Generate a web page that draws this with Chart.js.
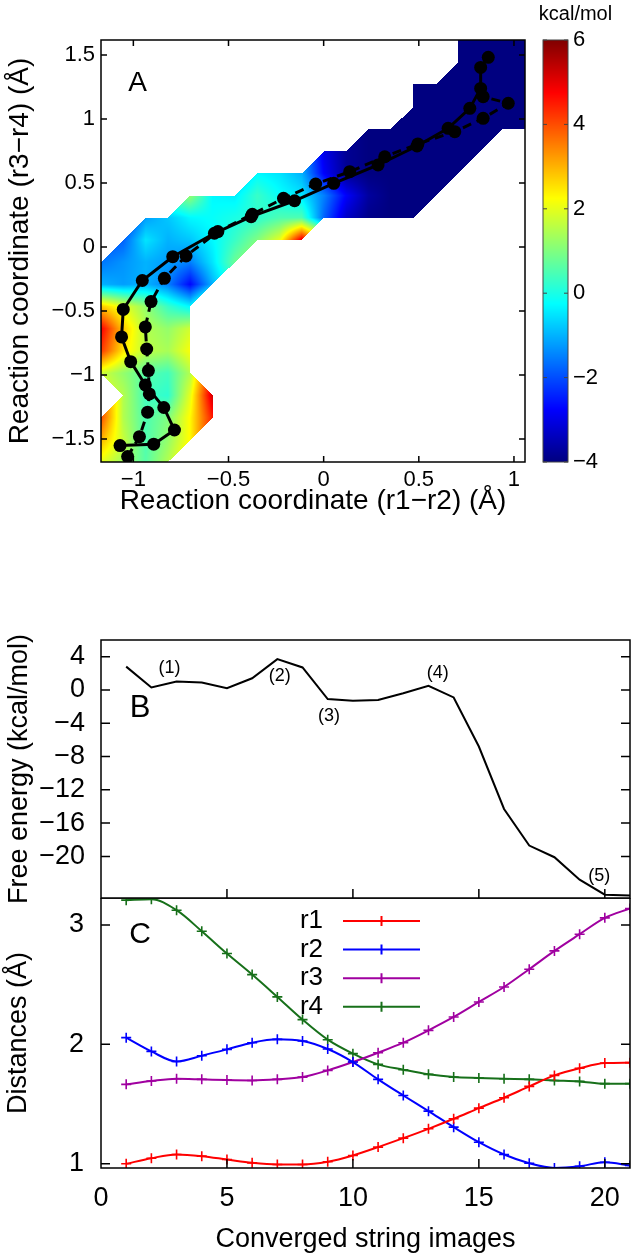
<!DOCTYPE html>
<html>
<head>
<meta charset="utf-8">
<title>String method free energy</title>
<script src="https://cdn.jsdelivr.net/npm/chart.js@4.4.1/dist/chart.umd.min.js"></script>
<style>
  html, body { margin: 0; padding: 0; background: #fff; }
  body { position: relative; width: 633px; height: 1254px; overflow: hidden; }
  canvas { position: absolute; left: 0; }
  #chart-a { top: 0; }
  #chart-b { top: 600px; }
  #chart-c { top: 898px; }
</style>
</head>
<body>
<canvas id="chart-a" width="633" height="560"></canvas>
<canvas id="chart-b" width="633" height="330"></canvas>
<canvas id="chart-c" width="633" height="360"></canvas>
<script>
const _ = null;

// --- panel A: free energy surface (kcal/mol) on the (r1-r2, r3-r4) grid ---
const gridX = [-1.170, -1.053, -0.935, -0.818, -0.701, -0.584, -0.466, -0.349, -0.232, -0.115,
               0.003, 0.120, 0.237, 0.354, 0.472, 0.589, 0.706, 0.823, 0.941, 1.058];
const gridY = [1.617, 1.443, 1.270, 1.096, 0.923, 0.749, 0.576, 0.402, 0.229, 0.055,
               -0.118, -0.292, -0.465, -0.639, -0.812, -0.986, -1.160, -1.333, -1.507, -1.680];
const energy = [
  [_, _, _, _, _, _, _, _, _, _, _, _, _, _, _, _, -4, -4, -4, -4],
  [_, _, _, _, _, _, _, _, _, _, _, _, _, _, _, _, -4, -4, -4, -4],
  [_, _, _, _, _, _, _, _, _, _, _, _, _, _, -4, -4, -4, -4, -4, -4],
  [_, _, _, _, _, _, _, _, _, _, _, _, _, _, -4, -4, -4, -4, -4, -4],
  [_, _, _, _, _, _, _, _, _, _, _, _, -4, -4, -4, -4, -4, -4, -4, -4],
  [_, _, _, _, _, _, _, _, _, _, -3.0, -3.8, -4, -4, -4, -4, -4, -4, _, _],
  [_, _, _, _, _, _, _, -0.3, -0.5, -1.0, -2.8, -3.8, -4, -4, -4, -4, -4, _, _, _],
  [_, _, _, _, 1.2, -0.3, -0.4, 0.3, -0.2, -0.5, -1.5, -2.8, -3.7, -4, -4, -4, _, _, _, _],
  [_, _, -1.2, -0.8, -0.3, -0.2, 0.0, 0.2, 0.5, 0.5, -1.8, -3.3, -3.9, -4, -4, _, _, _, _, _],
  [_, -1.8, -0.5, -1.0, -0.8, -0.3, 0.3, 1.0, 2.0, 5.0, _, _, _, _, _, _, _, _, _, _],
  [-1.6, -1.3, -1.0, -1.2, -1.5, -0.5, 0.8, _, _, _, _, _, _, _, _, _, _, _, _, _],
  [-1.0, -1.2, -1.0, -1.5, -2.7, -1.0, _, _, _, _, _, _, _, _, _, _, _, _, _, _],
  [2.8, 2.0, 1.2, 0.3, -0.3, _, _, _, _, _, _, _, _, _, _, _, _, _, _, _],
  [4.8, 2.8, 1.5, 1.2, 1.8, _, _, _, _, _, _, _, _, _, _, _, _, _, _, _],
  [4.2, 2.5, 1.6, 1.4, 2.2, _, _, _, _, _, _, _, _, _, _, _, _, _, _, _],
  [1.8, 1.2, 0.6, 0.4, 1.5, _, _, _, _, _, _, _, _, _, _, _, _, _, _, _],
  [_, 1.5, 0.4, 0.2, 2.0, 5.2, _, _, _, _, _, _, _, _, _, _, _, _, _, _],
  [4.0, 1.5, 0.5, 1.0, 2.3, 4.5, _, _, _, _, _, _, _, _, _, _, _, _, _, _],
  [3.0, 1.7, 0.5, 1.2, 2.3, _, _, _, _, _, _, _, _, _, _, _, _, _, _, _],
  [2.0, 1.3, 0.6, 1.5, _, _, _, _, _, _, _, _, _, _, _, _, _, _, _, _]
];
const colorRange = [-4, 6];

// converged strings, [r1-r2, r3-r4]
const stringSolid = [
  [-1.070, -1.552], [-0.893, -1.541], [-0.784, -1.430], [-0.840, -1.254], [-0.937, -1.078],
  [-1.014, -0.896], [-1.062, -0.703], [-1.053, -0.488], [-0.953, -0.262], [-0.793, -0.076],
  [-0.574, 0.107], [-0.381, 0.237], [-0.153, 0.361], [0.053, 0.497], [0.286, 0.641],
  [0.491, 0.789], [0.654, 0.927], [0.768, 1.083], [0.825, 1.239], [0.825, 1.403], [0.865, 1.482]
];
const stringDashed = [
  [-1.030, -1.638], [-0.968, -1.482], [-0.925, -1.291], [-0.916, -1.148], [-0.921, -0.966],
  [-0.930, -0.797], [-0.937, -0.625], [-0.907, -0.427], [-0.837, -0.245], [-0.723, -0.070],
  [-0.556, 0.120], [-0.375, 0.255], [-0.211, 0.380], [-0.042, 0.492], [0.137, 0.588],
  [0.321, 0.705], [0.495, 0.805], [0.689, 0.901], [0.838, 1.005], [0.970, 1.123], [0.838, 1.174]
];
const ticksAX = [-1, -0.5, 0, 0.5, 1];
const ticksAY = [-1.5, -1, -0.5, 0, 0.5, 1, 1.5];
const ticksCB = [-4, -2, 0, 2, 4, 6];

// --- panels B and C: along the converged string ---
const images = [1, 2, 3, 4, 5, 6, 7, 8, 9, 10, 11, 12, 13, 14, 15, 16, 17, 18, 19, 20, 21];
const freeEnergy = [2.8, 0.3, 1.0, 0.9, 0.2, 1.4, 3.7, 2.7, -1.1, -1.3, -1.2, -0.4, 0.5, -0.9,
                    -6.8, -14.3, -18.7, -20.1, -22.8, -24.6, -24.7];
const peakLabels = ['(1)', '(2)', '(3)', '(4)', '(5)'];
const peakX = [2.72, 7.1, 9.05, 13.37, 19.78];
const peakY = [2.6, 1.7, -3.1, 2.0, -22.4];

const r1 = [1.000, 1.047, 1.078, 1.064, 1.036, 1.008, 0.994, 0.994, 1.017, 1.070, 1.140,
            1.215, 1.293, 1.377, 1.466, 1.553, 1.648, 1.740, 1.800, 1.843, 1.847];
const r2 = [2.056, 1.941, 1.857, 1.905, 1.958, 2.014, 2.042, 2.028, 1.961, 1.852, 1.707,
            1.572, 1.441, 1.307, 1.181, 1.078, 1.005, 0.966, 0.980, 1.013, 0.986];
const r3 = [1.665, 1.693, 1.712, 1.707, 1.701, 1.698, 1.707, 1.726, 1.782, 1.852, 1.930,
            2.014, 2.117, 2.229, 2.355, 2.480, 2.629, 2.782, 2.922, 3.059, 3.137];
const r4 = [3.207, 3.215, 3.123, 2.947, 2.760, 2.584, 2.397, 2.207, 2.039, 1.922, 1.832,
            1.788, 1.749, 1.726, 1.718, 1.712, 1.707, 1.698, 1.690, 1.671, 1.671];
const distanceNames = ['r1', 'r2', 'r3', 'r4'];
const ticksX = [0, 5, 10, 15, 20];
const ticksBY = [-20, -16, -12, -8, -4, 0, 4];
const ticksCY = [1, 2, 3];

const FONT = "'Liberation Sans', Arial, Helvetica, sans-serif";
Chart.defaults.font.family = FONT;
Chart.defaults.color = '#000';
Chart.defaults.animation = false;
Chart.defaults.plugins.legend.display = false;
Chart.defaults.plugins.tooltip.enabled = false;

const minus = v => String(v).replace('-', '\u2212');
const setTicks = list => scale => { scale.ticks = list.map(v => ({ value: v })); };
// fixed axis box, no extra room for overhanging labels
const fixSize = (key, px) => s => { s[key] = px; s.paddingTop = s.paddingBottom = s.paddingLeft = s.paddingRight = 0; };

function jet(v) {
  const t = Math.min(1, Math.max(0, (v - colorRange[0]) / (colorRange[1] - colorRange[0])));
  const c = k => Math.round(255 * Math.min(1, Math.max(0, 1.5 - Math.abs(4 * t - k))));
  return [c(3), c(2), c(1)];
}

// value of the surface at (x, y): bilinear on full cells, linear on half cells
function energyAt(x, y) {
  let i = -1, j = -1;
  for (let k = 0; k < gridX.length - 1; k++) if (x >= gridX[k] && x <= gridX[k + 1]) { i = k; break; }
  for (let k = 0; k < gridY.length - 1; k++) if (y <= gridY[k] && y >= gridY[k + 1]) { j = k; break; }
  if (i < 0 || j < 0) return null;
  const u = (x - gridX[i]) / (gridX[i + 1] - gridX[i]);
  const v = (gridY[j] - y) / (gridY[j] - gridY[j + 1]);
  const c00 = energy[j][i], c10 = energy[j][i + 1], c01 = energy[j + 1][i], c11 = energy[j + 1][i + 1];
  const missing = [c00, c10, c01, c11].filter(c => c === null).length;
  if (missing === 0) return c00 * (1 - u) * (1 - v) + c10 * u * (1 - v) + c01 * (1 - u) * v + c11 * u * v;
  if (missing > 1) return null;
  if (c11 === null) return u + v <= 1 ? c00 + u * (c10 - c00) + v * (c01 - c00) : null;
  if (c00 === null) return u + v >= 1 ? c11 + (1 - u) * (c01 - c11) + (1 - v) * (c10 - c11) : null;
  if (c10 === null) return u <= v ? c01 + (1 - v) * (c00 - c01) + u * (c11 - c01) : null;
  return u >= v ? c10 + (1 - u) * (c00 - c10) + v * (c11 - c10) : null;
}

const surface = {
  id: 'surface',
  beforeDatasetsDraw(chart) {
    const { ctx, chartArea: a, scales: { x, y } } = chart;
    const w = Math.round(a.right - a.left), h = Math.round(a.bottom - a.top);
    const off = document.createElement('canvas');
    off.width = w; off.height = h;
    const octx = off.getContext('2d');
    const img = octx.createImageData(w, h);
    for (let py = 0; py < h; py++) {
      const yv = y.getValueForPixel(a.top + py + 0.5);
      for (let px = 0; px < w; px++) {
        const e = energyAt(x.getValueForPixel(a.left + px + 0.5), yv);
        if (e === null) continue;
        const [r, g, b] = jet(e);
        const k = (py * w + px) * 4;
        img.data[k] = r; img.data[k + 1] = g; img.data[k + 2] = b; img.data[k + 3] = 255;
      }
    }
    octx.putImageData(img, 0, 0);
    ctx.drawImage(off, a.left, a.top);
  }
};

const colorbar = {
  id: 'colorbar',
  afterDraw(chart, args, o) {
    const { ctx } = chart;
    const cb = chart.scales.cb;
    const left = cb.left + o.gap;
    ctx.save();
    for (let py = Math.floor(cb.top); py < cb.bottom; py++) {
      const [r, g, b] = jet(cb.getValueForPixel(py + 0.5));
      ctx.fillStyle = `rgb(${r},${g},${b})`;
      ctx.fillRect(left, py, o.width, 1);
    }
    ctx.strokeStyle = '#444';
    ctx.lineWidth = 1;
    ctx.strokeRect(left, cb.top, o.width, cb.bottom - cb.top);
    ctx.beginPath();
    ticksCB.forEach(v => {
      const py = cb.getPixelForValue(v);
      ctx.moveTo(left, py); ctx.lineTo(left + 4, py);
      ctx.moveTo(left + o.width, py); ctx.lineTo(left + o.width - 4, py);
    });
    ctx.stroke();
    ctx.fillStyle = '#000';
    ctx.font = `${o.titleSize}px ${FONT}`;
    ctx.textAlign = 'center';
    ctx.textBaseline = 'middle';
    ctx.fillText(o.title, left + o.width / 2 + o.titleShift, o.titleY);
    ctx.restore();
  }
};

const frameTicks = {
  id: 'frameTicks',
  afterDatasetsDraw(chart, args, o) {
    const { ctx, chartArea: a, scales } = chart;
    ctx.save();
    ctx.strokeStyle = '#000';
    ctx.lineWidth = o.lineWidth;
    ctx.beginPath();
    o.xTicks.forEach(v => {
      const px = scales.x.getPixelForValue(v);
      if (px < a.left + 1 || px > a.right - 1) return;
      ctx.moveTo(px, a.bottom); ctx.lineTo(px, a.bottom - o.len);
      if (o.top) { ctx.moveTo(px, a.top); ctx.lineTo(px, a.top + o.len); }
    });
    o.yTicks.forEach(v => {
      const py = scales.y.getPixelForValue(v);
      if (py < a.top + 1 || py > a.bottom - 1) return;
      ctx.moveTo(a.left, py); ctx.lineTo(a.left + o.len, py);
      ctx.moveTo(a.right, py); ctx.lineTo(a.right - o.len, py);
    });
    ctx.stroke();
    ctx.strokeRect(a.left, a.top, a.right - a.left, a.bottom - a.top);
    ctx.restore();
  }
};

const panelLetter = {
  id: 'panelLetter',
  afterDraw(chart, args, o) {
    const { ctx, chartArea: a } = chart;
    ctx.save();
    ctx.fillStyle = '#000';
    ctx.font = `${o.size}px ${FONT}`;
    ctx.textAlign = 'center';
    ctx.textBaseline = 'middle';
    ctx.fillText(o.text, a.left + o.dx, a.top + o.dy);
    ctx.restore();
  }
};

const peakNotes = {
  id: 'peakNotes',
  afterDatasetsDraw(chart, args, o) {
    const { ctx, scales: { x, y } } = chart;
    ctx.save();
    ctx.fillStyle = '#000';
    ctx.font = `${o.size}px ${FONT}`;
    ctx.textAlign = 'center';
    ctx.textBaseline = 'middle';
    peakLabels.forEach((t, i) => ctx.fillText(t, x.getPixelForValue(peakX[i]), y.getPixelForValue(peakY[i])));
    ctx.restore();
  }
};

const legendC = {
  id: 'legendC',
  afterDatasetsDraw(chart, args, o) {
    const { ctx, chartArea: a } = chart;
    ctx.save();
    ctx.font = `${o.size}px ${FONT}`;
    ctx.textAlign = 'right';
    ctx.textBaseline = 'middle';
    chart.data.datasets.forEach((ds, i) => {
      const y = a.top + o.top + i * o.gap;
      ctx.fillStyle = '#000';
      ctx.fillText(ds.label, a.left + o.textRight, y);
      const x0 = a.left + o.lineStart, x1 = a.left + o.lineEnd, xm = (x0 + x1) / 2;
      ctx.strokeStyle = ds.borderColor;
      ctx.lineWidth = 2;
      ctx.beginPath();
      ctx.moveTo(x0, y); ctx.lineTo(x1, y);
      ctx.moveTo(xm, y - 5); ctx.lineTo(xm, y + 5);
      ctx.stroke();
    });
    ctx.restore();
  }
};

// ---------- panel A ----------
new Chart(document.getElementById('chart-a'), {
  type: 'scatter',
  data: {
    datasets: [
      { data: stringSolid.map(([x, y]) => ({ x, y })), showLine: true, borderColor: '#000',
        borderWidth: 3, pointRadius: 6.5, pointBackgroundColor: '#000', pointBorderWidth: 0 },
      { data: stringDashed.map(([x, y]) => ({ x, y })), showLine: true, borderColor: '#000',
        borderWidth: 3, borderDash: [9, 6], pointRadius: 6.5, pointBackgroundColor: '#000', pointBorderWidth: 0 }
    ]
  },
  options: {
    responsive: false,
    layout: { autoPadding: false, padding: { top: 40, left: 0, right: 0, bottom: 0 } },
    scales: {
      x: {
        type: 'linear', min: gridX[0], max: gridX[gridX.length - 1],
        afterBuildTicks: setTicks(ticksAX),
        afterFit: fixSize('height', 98),
        grid: { display: false, drawTicks: false }, border: { display: false },
        ticks: { font: { size: 22 }, padding: 5, callback: minus, maxRotation: 0 },
        title: { display: true, text: 'Reaction coordinate (r1\u2212r2) (\u00c5)', font: { size: 28 }, padding: { top: 0, bottom: 42 } }
      },
      y: {
        type: 'linear', min: gridY[gridY.length - 1], max: gridY[0],
        afterBuildTicks: setTicks(ticksAY),
        afterFit: fixSize('width', 101),
        grid: { display: false, drawTicks: false }, border: { display: false },
        ticks: { font: { size: 22 }, padding: 6, callback: minus },
        title: { display: true, text: 'Reaction coordinate (r3\u2212r4) (\u00c5)', font: { size: 28 }, padding: { top: 3, bottom: 0 } }
      },
      cb: {
        type: 'linear', position: 'right', axis: 'y', min: colorRange[0], max: colorRange[1],
        afterBuildTicks: setTicks(ticksCB),
        afterFit: fixSize('width', 108),
        grid: { display: false, drawTicks: false }, border: { display: false },
        ticks: { font: { size: 22 }, padding: 48, callback: minus }
      }
    },
    plugins: {
      frameTicks: { xTicks: ticksAX, yTicks: ticksAY, len: 6, lineWidth: 1.5, top: true },
      colorbar: { gap: 18, width: 25, title: 'kcal/mol', titleSize: 20, titleShift: 20, titleY: 14 },
      panelLetter: { text: 'A', dx: 36.5, dy: 43, size: 28 }
    }
  },
  plugins: [surface, frameTicks, colorbar, panelLetter]
});

// ---------- panel B ----------
// canvas reaches below the frame so the long axis title is not cut
new Chart(document.getElementById('chart-b'), {
  type: 'scatter',
  data: {
    datasets: [{
      data: images.map((x, i) => ({ x, y: freeEnergy[i] })), showLine: true,
      borderColor: '#000', borderWidth: 2, pointRadius: 0
    }]
  },
  options: {
    responsive: false,
    layout: { autoPadding: false, padding: { top: 40, left: 0, right: 3, bottom: 32 } },
    scales: {
      x: { type: 'linear', min: 0, max: 21, display: false },
      y: {
        type: 'linear', min: -25, max: 6,
        afterBuildTicks: setTicks(ticksBY),
        afterFit: fixSize('width', 101),
        grid: { display: false, drawTicks: false }, border: { display: false },
        ticks: { font: { size: 27 }, padding: 16, callback: minus },
        title: { display: true, text: 'Free energy (kcal/mol)', font: { size: 27 }, padding: { top: 3, bottom: 0 } }
      }
    },
    plugins: {
      frameTicks: { xTicks: ticksX, yTicks: ticksBY, len: 9, lineWidth: 1.5, top: false },
      panelLetter: { text: 'B', dx: 39, dy: 68, size: 31 },
      peakNotes: { size: 18 }
    }
  },
  plugins: [frameTicks, panelLetter, peakNotes]
});

// ---------- panel C ----------
const distColors = ['#ff0000', '#0000ff', '#a000a0', '#17701a'];
new Chart(document.getElementById('chart-c'), {
  type: 'line',
  data: {
    datasets: [r1, r2, r3, r4].map((vals, k) => ({
      label: distanceNames[k],
      data: images.map((x, i) => ({ x, y: vals[i] })),
      borderColor: distColors[k], borderWidth: 2,
      cubicInterpolationMode: 'monotone',
      pointStyle: 'cross', pointRadius: 5, pointBorderWidth: 1.6,
      pointBorderColor: distColors[k], pointBackgroundColor: distColors[k]
    }))
  },
  options: {
    responsive: false,
    layout: { autoPadding: false, padding: { top: 0, left: 0, right: 3, bottom: 0 } },
    scales: {
      x: {
        type: 'linear', min: 0, max: 21,
        afterBuildTicks: setTicks(ticksX),
        afterFit: fixSize('height', 90),
        grid: { display: false, drawTicks: false }, border: { display: false },
        ticks: { font: { size: 27 }, padding: 14, maxRotation: 0 },
        title: { display: true, text: 'Converged string images', font: { size: 27 }, padding: { top: 0, bottom: 2 } }
      },
      y: {
        type: 'linear', min: 0.965, max: 3.225,
        afterBuildTicks: setTicks(ticksCY),
        afterFit: fixSize('width', 101),
        grid: { display: false, drawTicks: false }, border: { display: false },
        ticks: { font: { size: 27 }, padding: 17 },
        title: { display: true, text: 'Distances (\u00c5)', font: { size: 27 }, padding: { top: 2, bottom: 0 } }
      }
    },
    plugins: {
      frameTicks: { xTicks: ticksX, yTicks: ticksCY, len: 9, lineWidth: 1.5, top: false },
      panelLetter: { text: 'C', dx: 39, dy: 37, size: 30 },
      legendC: { size: 26, top: 23, gap: 28.6, textRight: 222, lineStart: 242, lineEnd: 319 }
    }
  },
  plugins: [frameTicks, panelLetter, legendC]
});
</script>
</body>
</html>
